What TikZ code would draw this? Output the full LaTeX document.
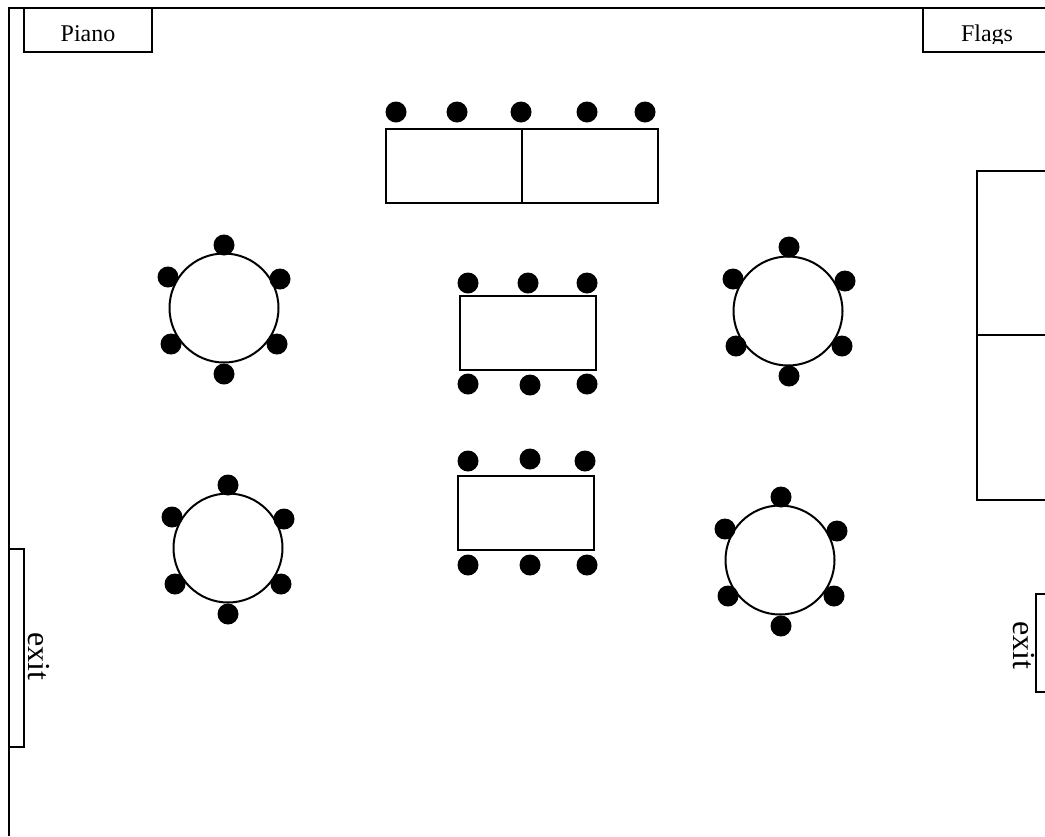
\documentclass[tikz,border=0pt]{standalone}
\usepackage{fontspec}
\setmainfont{Liberation Serif}

\tikzset{
	wall/.style={line width=1.5pt},
	seat/.style={fill=black},
	label/.style={inner sep=0pt,anchor=base,font=\fontsize{18}{20}\selectfont},
	doorlabel/.style={inner sep=0pt,rotate=-90,font=\fontsize{24}{26}\selectfont}
}

\begin{document}
\begin{tikzpicture}

\def\dim{0.75pt}

\begin{scope}[x=\dim,y=-\dim]
\useasboundingbox (0,0) rectangle (1045,836);
\clip (0,0) rectangle (1045,836);

% room
\draw[wall] (9,836) -- (9,8) -- (1045,8);

% furniture
\foreach \a\b\c\d in{
	24/8/152/52
	,923/8/1050/52
	,386/129/522/203
	,522/129/658/203
	,460/296/596/370
	,458/476/594/550
	,977/171/1050/335
	,977/335/1050/500
	,9/549/24/747
	,1036/594/1050/692
}{
	\draw[wall] (\a,\b) rectangle (\c,\d);
}

% round tables, then the centre of their seats
\foreach \a\b\e\f in{
	224/308/224/308
	,788/311/789/310
	,228/548/228/548
	,780/560/781/560
}{
	\draw[wall] (\a,\b) circle (54.5);
	\foreach \c\d in{0/-63,-56/-31,56/-29,-53/36,53/36,0/66}{
		\fill[seat] (\e+\c,\f+\d) circle (10.5);
	}
}

% seats at the long tables
\foreach \a\b in{
	396/112,457/112,521/112,587/112,645/112
	,468/283,528/283,587/283
	,468/384,530/385,587/384
	,468/461,530/459,585/461
	,468/565,530/565,587/565
}{
	\fill[seat] (\a,\b) circle (10.5);
}

\node[label] (piano) at(88,41.5) {Piano};
\begin{scope}
\clip (924,9) rectangle (1045,43.5);
\node[label] (flags) at(987,41.5) {Flags};
\end{scope}
\node[doorlabel] (exitleft) at(38.5,656) {exit};
\node[doorlabel] (exitright) at(1024,645) {exit};
\end{scope}

\end{tikzpicture}
\end{document}
